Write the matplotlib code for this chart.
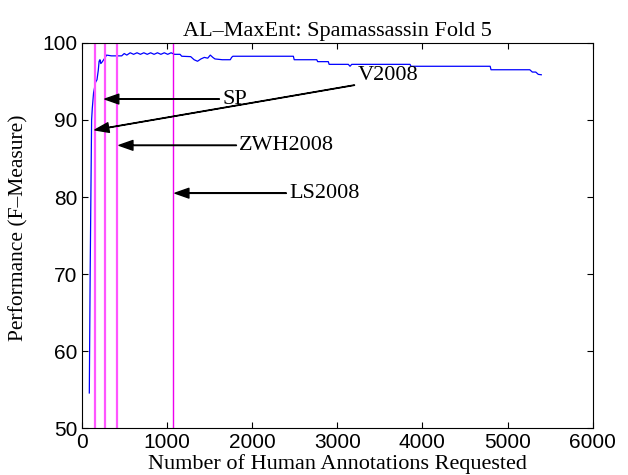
import numpy as np
import matplotlib.pyplot as plt

# curve
n_ann = [90, 100, 110, 117, 125, 140, 164, 180, 195, 205, 215, 225, 240, 265, 293,
         350, 420, 470, 500, 530, 570, 610, 650, 690, 730, 770, 810, 850, 890, 930,
         970, 1010, 1050, 1090, 1155, 1175, 1280, 1320, 1360, 1400, 1440, 1480, 1510,
         1540, 1565, 1650, 1745, 1760, 1775, 2485, 2495, 2760, 2770, 2895, 2905, 3130,
         3150, 3170, 3855, 3865, 4795, 4805, 5260, 5290, 5330, 5360, 5395]
f_meas = [54.6, 70.0, 82.0, 90.0, 91.5, 93.5, 94.9, 95.2, 96.4, 97.6, 97.8, 97.3, 97.5, 97.9, 98.4,
          98.3, 98.3, 98.3, 98.6, 98.4, 98.7, 98.5, 98.7, 98.5, 98.7, 98.5, 98.7, 98.5, 98.7, 98.5,
          98.7, 98.5, 98.7, 98.5, 98.5, 98.25, 98.2, 97.8, 97.6, 97.9, 98.1, 98.0, 98.4,
          98.1, 97.9, 97.8, 97.8, 98.1, 98.25, 98.25, 97.8, 97.8, 97.55, 97.55, 97.2, 97.2,
          96.95, 97.2, 97.2, 96.95, 96.95, 96.5, 96.5, 96.2, 96.2, 95.9, 95.85]

vlines = [152, 273, 418, 1075]

labels = ["SP", "V2008", "ZWH2008", "LS2008"]
tips = [(273, 92.7), (156, 88.7), (439, 86.7), (1096, 80.5)]
txt_pos = [(1649, 92.7), (3235, 95.8), (1849, 86.7), (2435, 80.5)]

plt.rcParams['xtick.direction'] = 'in'
plt.rcParams['ytick.direction'] = 'in'

fig = plt.figure(figsize=(6.28, 4.75), dpi=100)
ax = fig.add_axes([0.130, 0.098, 0.814, 0.812])

ax.plot(n_ann, f_meas, color='blue', lw=0.9)

for i, v in enumerate(vlines):
    if i < 3:
        ax.axvline(v, color='#ff55ff', lw=1.6)
    else:
        ax.axvline(v, color='#ee00ee', lw=1.0)

for lab, tip, pos in zip(labels, tips, txt_pos):
    ax.annotate(lab, xy=tip, xytext=pos, ha='left', va='center',
                fontsize=16, family='Liberation Serif',
                arrowprops=dict(facecolor='black', edgecolor='black', width=0.3,
                                headwidth=7, headlength=10, shrink=0.0))

ax.set_xlim(0, 6000)
ax.set_ylim(50, 100)
ax.set_xticks(np.arange(0, 6001, 1000))
ax.set_yticks(np.arange(50, 101, 10))
ax.tick_params(top=True, right=True, length=4, labelsize=15, pad=3)
for lbl in ax.get_xticklabels() + ax.get_yticklabels():
    lbl.set_family('Liberation Sans')

ax.set_title("AL\u2013MaxEnt: Spamassassin Fold 5", family='Liberation Serif', fontsize=16, pad=5)
ax.set_xlabel("Number of Human Annotations Requested", family='Liberation Serif', fontsize=16)
ax.set_ylabel("Performance (F\u2013Measure)", family='Liberation Serif', fontsize=15.5)
ax.xaxis.set_label_coords(0.5, -0.066)
ax.yaxis.set_label_coords(-0.104, 0.52)

fig.savefig("out.png", dpi=100)
